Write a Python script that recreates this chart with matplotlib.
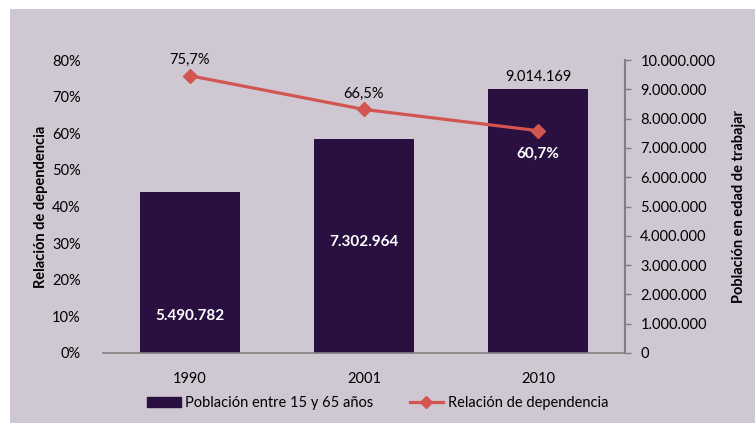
import matplotlib.pyplot as plt
from matplotlib.patches import Rectangle
from matplotlib.lines import Line2D
from matplotlib.ticker import FuncFormatter

plt.rcParams['font.family'] = ['Lato', 'DejaVu Sans']

# datos
anios = ["1990", "2001", "2010"]
poblacion = [5490782, 7302964, 9014169]
dependencia = [75.7, 66.5, 60.7]

fondo = "#cfc8d3"
morado = "#2a1040"
rojo = "#d2554f"
gris = "#808080"

fig = plt.figure(figsize=(7.55, 4.25), dpi=100, facecolor="white")
fig.patches.append(Rectangle((10 / 755, 0.005), 1, 1 - 9 / 425 - 0.005,
                             transform=fig.transFigure, facecolor=fondo,
                             edgecolor="none", zorder=-5))

ax = fig.add_axes([103 / 755, 1 - 353 / 425, (625 - 103) / 755, (353 - 60) / 425])
ax.set_facecolor("none")
ax2 = ax.twinx()
ax2.set_facecolor("none")

x = range(len(anios))

# barras de población (eje derecho)
ax2.bar(x, poblacion, width=0.58, color=morado, zorder=1)
ax2.set_ylim(0, 10000000)
ax2.set_yticks(range(0, 10000001, 1000000))
ax2.yaxis.set_major_formatter(FuncFormatter(lambda v, p: f"{int(v):,}".replace(",", ".")))
ax2.tick_params(axis="y", length=4, width=1, color=gris, pad=7, labelsize=10.5)
ax2.set_ylabel("Población en edad de trabajar", fontsize=10.5, fontweight="bold", labelpad=12)

# línea de relación de dependencia (eje izquierdo)
ax2.set_zorder(1)
ax.set_zorder(2)
ax.plot(x, dependencia, color=rojo, lw=2.3, marker="D", markersize=7, zorder=3)
ax.set_ylim(0, 80)
ax.set_yticks(range(0, 81, 10))
ax.yaxis.set_major_formatter(FuncFormatter(lambda v, p: f"{int(v)}%"))
ax.tick_params(axis="y", length=0, pad=16, labelsize=10.5)
ax.tick_params(axis="x", length=0, pad=14, labelsize=10.5)
ax.set_xticks(list(x))
ax.set_xticklabels(anios)
ax.set_xlim(-0.5, 2.5)
ax.set_ylabel("Relación de dependencia", fontsize=10.5, fontweight="bold", labelpad=3)

for a in (ax, ax2):
    for s in ("top", "left"):
        a.spines[s].set_visible(False)
ax.spines["right"].set_visible(False)
ax2.spines["right"].set_color(gris)
ax2.spines["right"].set_linewidth(1.5)
ax2.spines["bottom"].set_color(gris)
ax2.spines["bottom"].set_linewidth(1.2)
ax.spines["bottom"].set_visible(False)

# etiquetas de valores
fmt = lambda v: f"{v:,}".replace(",", ".")
ax2.text(0, 1250000, fmt(poblacion[0]), ha="center", va="center",
         color="white", fontsize=11, fontweight="bold")
ax2.text(1, 3800000, fmt(poblacion[1]), ha="center", va="center",
         color="white", fontsize=11, fontweight="bold")
ax2.text(2, poblacion[2] + 180000, fmt(poblacion[2]), ha="center", va="bottom",
         color="black", fontsize=10.5)

ax.text(0, dependencia[0] + 2.3, f"{dependencia[0]:.1f}%".replace(".", ","),
        ha="center", va="bottom", fontsize=10.5)
ax.text(1, dependencia[1] + 2.3, f"{dependencia[1]:.1f}%".replace(".", ","),
        ha="center", va="bottom", fontsize=10.5)
ax.text(2, dependencia[2] - 4.5, f"{dependencia[2]:.1f}%".replace(".", ","),
        ha="center", va="top", color="white", fontsize=11, fontweight="bold")

# leyenda
handles = [Rectangle((0, 0), 1, 1, color=morado),
           Line2D([], [], color=rojo, lw=2.3, marker="D", markersize=6)]
fig.legend(handles, ["Población entre 15 y 65 años", "Relación de dependencia"],
           loc="center", bbox_to_anchor=(0.5, 1 - 403 / 425), ncol=2, frameon=False,
           fontsize=10.5, handlelength=2.3, handletextpad=0.3, columnspacing=2.5)

fig.savefig("out.png", dpi=100, facecolor="white")
